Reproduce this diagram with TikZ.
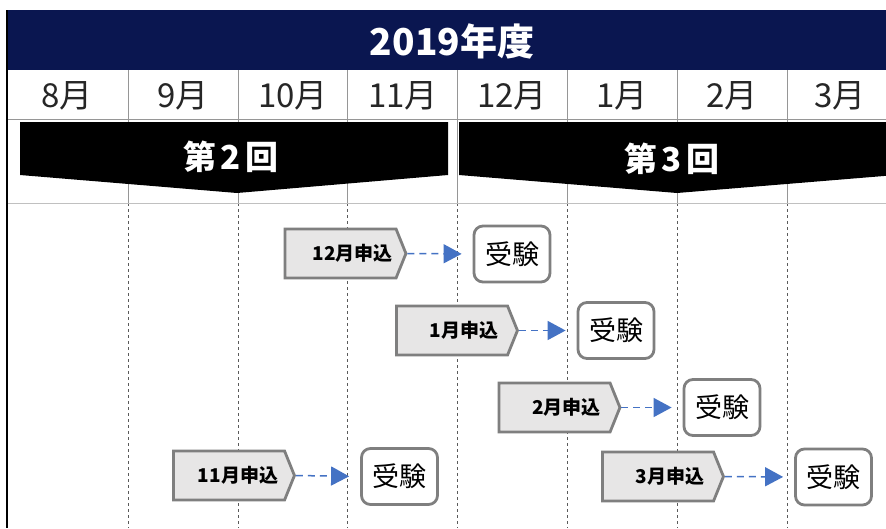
\documentclass[tikz,border=0pt]{standalone}
\usepackage{fontspec}
\setmainfont{Noto Sans CJK JP}
\usetikzlibrary{shapes.symbols,arrows.meta}
\definecolor{navy}{RGB}{10,22,80}
\definecolor{gridc}{RGB}{150,150,150}
\definecolor{dashc}{RGB}{90,90,90}
\definecolor{pentfill}{RGB}{231,230,230}
\definecolor{edgec}{RGB}{127,127,127}
\definecolor{arrowc}{RGB}{68,114,196}
\tikzset{
  month/.style={font=\fontsize{33}{33}\selectfont, text=black!85},
  pent/.style={shape=signal, signal to=east, signal pointer angle=136,
    fill=pentfill, draw=edgec, line width=2.8pt, minimum width=121pt,
    minimum height=49pt, inner sep=0pt, font=\bfseries\fontsize{19}{19}\selectfont},
  exam/.style={draw=edgec, fill=white, line width=2.8pt, rounded corners=9pt,
    minimum width=76pt, minimum height=56pt, inner sep=0pt,
    font=\fontsize{27}{27}\selectfont},
  flow/.style={draw=arrowc, line width=1.5pt, dash pattern=on 7pt off 5pt,
    -{Triangle[length=18pt,width=19pt]}, shorten >=11pt},
  banner/.style={font=\bfseries\fontsize{33}{33}\selectfont, text=white}
}
\begin{document}
\begin{tikzpicture}[x=1pt,y=-1pt]
\useasboundingbox (0,0) rectangle (886,528);
\fill[white] (0,0) rectangle (886,528);
% title bar
\fill[navy] (7,10) rectangle (886,70);
\node[text=white, font=\bfseries\fontsize{37}{37}\selectfont] (title) at (452,41) {2019年度};
% month row lines
\foreach \x in {128,238,347,457,567,677,787}{
  \draw[gridc, line width=0.8pt] (\x,70) -- (\x,203);
  \draw[dashc, line width=1pt, dash pattern=on 3pt off 3pt] (\x,203) -- (\x,528);
}
\draw[gridc, line width=0.8pt] (7,119) -- (886,119);
\draw[gridc!60, line width=0.8pt] (7,203) -- (886,203);
% months
\node[month] (m8) at (67,96) {8月};
\node[month] (m9) at (183,96) {9月};
\node[month] (m10) at (293,96) {10月};
\node[month] (m11) at (403,96) {11月};
\node[month] (m12) at (512,96) {12月};
\node[month] (m1) at (622,96) {1月};
\node[month] (m2) at (732,96) {2月};
\node[month] (m3) at (840,96) {3月};
% banners
\fill[black] (20,122) -- (448,122) -- (448,175) -- (237,193) -- (20,175) -- cycle;
\fill[black] (459,122) -- (896,122) -- (896,175) -- (677,193) -- (459,175) -- cycle;
\node[banner] (b2) at (231,157) {第\hspace{4pt}2\hspace{4pt}回};
\node[banner] (b3) at (672,159) {第\hspace{4pt}3\hspace{4pt}回};
% items
\node[pent] (p12) at (340.5,253.5) {\hspace*{24pt}12月申込};
\node[exam] (e12) at (512,254) {受験};
\draw[flow] (p12.east) -- (e12.west);
\node[pent] (p1) at (452,330.5) {\hspace*{24pt}1月申込};
\node[exam] (e1) at (616,330.5) {受験};
\draw[flow] (p1.east) -- (e1.west);
\node[pent] (p2) at (554.5,407.5) {\hspace*{24pt}2月申込};
\node[exam] (e2) at (722,407.5) {受験};
\draw[flow] (p2.east) -- (e2.west);
\node[pent] (p11) at (229,475.5) {\hspace*{18pt}11月申込};
\node[exam] (e11) at (399.5,476.5) {受験};
\draw[flow] (p11.east) -- (e11.west);
\node[pent] (p3) at (658,476.5) {\hspace*{24pt}3月申込};
\node[exam] (e3) at (833.5,477) {受験};
\draw[flow] (p3.east) -- (e3.west);
% left border
\draw[black, line width=1.5pt] (7,10) -- (7,528);
\end{tikzpicture}
\end{document}
